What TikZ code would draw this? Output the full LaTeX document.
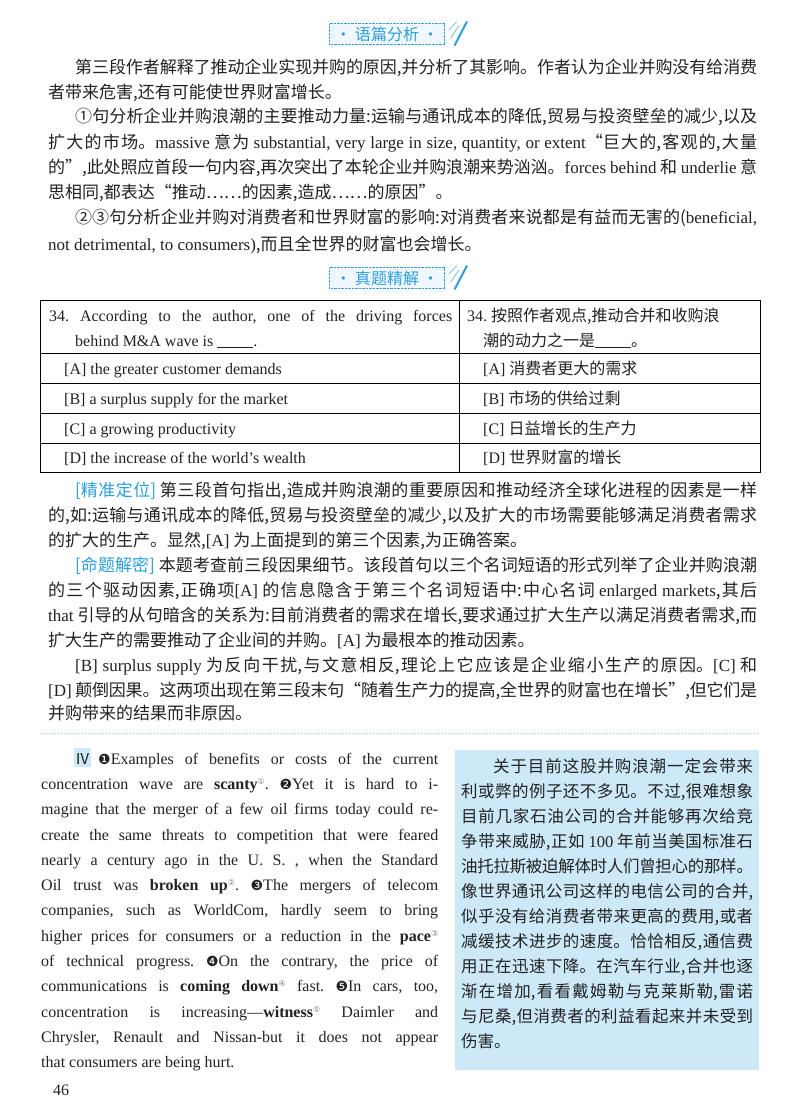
\documentclass[tikz,border=0pt]{standalone}
\usepackage{fontspec}
\setmainfont{Noto Sans CJK SC}
\newfontfamily\en{Liberation Serif}
\newfontfamily\sym{DejaVu Sans}
\XeTeXlinebreaklocale "zh"
\XeTeXlinebreakskip=0pt plus 6pt minus 1pt
\frenchspacing
\definecolor{ink}{HTML}{222222}
\definecolor{hblue}{HTML}{2E9FDE}
\definecolor{lblue}{HTML}{CDE9F8}
\newcommand\J[4]{\node[anchor=base west,inner sep=0] at (#1,#2) {\parbox[t]{#3pt}{\tolerance=10000\hyphenpenalty=10000\parfillskip=0pt\parindent=0pt\emergencystretch=20pt\leavevmode #4}};}
\newcommand\N[3]{\node[anchor=base west,inner sep=0] at (#1,#2) {#3};}
\newcommand\sn[1]{{\sym\fontsize{8}{8}\selectfont\raisebox{5pt}{\color{gray}#1}}}
\newcommand\cn[1]{{\sym\fontsize{14}{14}\selectfont #1}}
\newcommand\hdr[3]{%
  \node[draw=hblue,densely dotted,fill=lblue!30,inner xsep=6pt,inner ysep=3pt,text=hblue,font=\fontsize{16}{16}\selectfont] (#1) at (#2) {· #3 ·};
  \draw[hblue,line width=2pt,line cap=round] ($(#1.east)+(10,11)$) -- ($(#1.east)+(22,-12)$);
  \draw[hblue!60,line width=1pt] ($(#1.east)+(6,4)$) -- ($(#1.east)+(14,-8)$) ($(#1.east)+(4,-4)$) -- ($(#1.east)+(12,-12)$);}
\usetikzlibrary{calc}
\begin{document}
\begin{tikzpicture}[x=1pt,y=-1pt,every node/.style={text=ink}]
\useasboundingbox[fill=white] (0,0) rectangle (800,1115);
\hdr{h1}{387,34}{语篇分析}
\begin{scope}[every node/.append style={font=\fontsize{17}{17}\selectfont}]
\J{75}{74}{682}{第三段作者解释了推动企业实现并购的原因,并分析了其影响。作者认为企业并购没有给消费}
\N{48}{99}{者带来危害,还有可能使世界财富增长。}
\J{75}{123}{682}{①句分析企业并购浪潮的主要推动力量:运输与通讯成本的降低,贸易与投资壁垒的减少,以及}
\J{48}{149}{709}{扩大的市场。{\en massive} 意为 {\en substantial, very large in size, quantity, or extent}“巨大的,客观的,大量}
\J{48}{174}{709}{的”,此处照应首段一句内容,再次突出了本轮企业并购浪潮来势汹汹。{\en forces behind} 和 {\en underlie} 意}
\N{48}{199}{思相同,都表达“推动……的因素,造成……的原因”。}
\J{75}{224}{682}{②③句分析企业并购对消费者和世界财富的影响:对消费者来说都是有益而无害的({\en beneficial,}}
\N{48}{251}{{\en not detrimental, to consumers)},而且全世界的财富也会增长。}
\end{scope}
\hdr{h2}{387,278}{真题精解}
% table
\draw[line width=0.8pt] (40,300) rectangle (760,472);
\draw[line width=0.8pt] (459,300) -- (459,472);
\foreach \yy in {353,383,413,443} \draw[line width=0.8pt] (40,\yy) -- (760,\yy);
\begin{scope}[every node/.append style={font=\en\fontsize{16}{16}\selectfont}]
\J{49}{321}{403}{34. According to the author, one of the driving forces}
\N{75}{346}{behind M\&A wave is \underline{\hspace{36pt}}.}
\N{64}{374}{[A] the greater customer demands}
\N{64}{404}{[B] a surplus supply for the market}
\N{64}{434}{[C] a growing productivity}
\N{64}{463}{[D] the increase of the world’s wealth}
\N{467}{321}{34. {\rmfamily\fontsize{16}{16}\selectfont 按照作者观点,推动合并和收购浪}}
\N{483}{346}{{\rmfamily\fontsize{16}{16}\selectfont 潮的动力之一是}\underline{\hspace{36pt}}{\rmfamily\fontsize{16}{16}\selectfont 。}}
\N{483}{374}{[A] {\rmfamily\fontsize{16}{16}\selectfont 消费者更大的需求}}
\N{483}{404}{[B] {\rmfamily\fontsize{16}{16}\selectfont 市场的供给过剩}}
\N{483}{434}{[C] {\rmfamily\fontsize{16}{16}\selectfont 日益增长的生产力}}
\N{483}{463}{[D] {\rmfamily\fontsize{16}{16}\selectfont 世界财富的增长}}
\end{scope}
\begin{scope}[every node/.append style={font=\fontsize{17}{17}\selectfont}]
\J{75}{496}{682}{{\color{hblue}[精准定位]} 第三段首句指出,造成并购浪潮的重要原因和推动经济全球化进程的因素是一样}
\J{48}{521}{709}{的,如:运输与通讯成本的降低,贸易与投资壁垒的减少,以及扩大的市场需要能够满足消费者需求}
\N{48}{546}{的扩大的生产。显然,{\en [A]} 为上面提到的第三个因素,为正确答案。}
\J{75}{571}{682}{{\color{hblue}[命题解密]} 本题考查前三段因果细节。该段首句以三个名词短语的形式列举了企业并购浪潮}
\J{48}{596}{709}{的三个驱动因素,正确项{\en [A]} 的信息隐含于第三个名词短语中:中心名词 {\en enlarged markets},其后}
\J{48}{621}{709}{{\en that} 引导的从句暗含的关系为:目前消费者的需求在增长,要求通过扩大生产以满足消费者需求,而}
\N{48}{646}{扩大生产的需要推动了企业间的并购。{\en [A]} 为最根本的推动因素。}
\J{75}{671}{682}{{\en [B] surplus supply} 为反向干扰,与文意相反,理论上它应该是企业缩小生产的原因。{\en [C]} 和}
\J{48}{696}{709}{{\en [D]} 颠倒因果。这两项出现在第三段末句“随着生产力的提高,全世界的财富也在增长”,但它们是}
\N{48}{719}{并购带来的结果而非原因。}
\end{scope}
\draw[hblue!50,dotted,line width=1pt] (40,733) -- (760,733);
% left English
\fill[lblue] (74,748) rectangle (91,767);
\begin{scope}[every node/.append style={font=\en\fontsize{16}{16}\selectfont}]
\N{75}{764}{{\rmfamily\fontsize{15}{15}\selectfont Ⅳ}}
\J{98}{764}{340}{\cn{❶}Examples of benefits or costs of the current}
\J{41}{789}{397}{concentration wave are \textbf{scanty}\sn{①}. \cn{❷}Yet it is hard to i-}
\J{41}{814}{397}{magine that the merger of a few oil firms today could re-}
\J{41}{840}{397}{create the same threats to competition that were feared}
\J{41}{865}{397}{nearly a century ago in the U. S. , when the Standard}
\J{41}{890}{397}{Oil trust was \textbf{broken up}\sn{②}. \cn{❸}The mergers of telecom}
\J{41}{915}{397}{companies, such as WorldCom, hardly seem to bring}
\J{41}{941}{397}{higher prices for consumers or a reduction in the \textbf{pace}\sn{③}}
\J{41}{966}{397}{of technical progress. \cn{❹}On the contrary, the price of}
\J{41}{991}{397}{communications is \textbf{coming down}\sn{④} fast. \cn{❺}In cars, too,}
\J{41}{1017}{397}{concentration is \mbox{increasing—\textbf{witness}\sn{⑤}} Daimler and}
\J{41}{1042}{397}{Chrysler, Renault and Nissan-but it does not appear}
\N{41}{1067}{that consumers are being hurt.}
\N{53}{1095}{46}
\end{scope}
% right box
\fill[lblue] (455,750) rectangle (759,1070);
\begin{scope}[every node/.append style={font=\fontsize{16.5}{16.5}\selectfont}]
\J{493}{772}{260}{关于目前这股并购浪潮一定会带来}
\J{461}{797}{292}{利或弊的例子还不多见。不过,很难想象}
\J{461}{822}{292}{目前几家石油公司的合并能够再次给竞}
\J{461}{847}{292}{争带来威胁,正如 {\en 100} 年前当美国标准石}
\J{461}{872}{292}{油托拉斯被迫解体时人们曾担心的那样。}
\J{461}{897}{292}{像世界通讯公司这样的电信公司的合并,}
\J{461}{922}{292}{似乎没有给消费者带来更高的费用,或者}
\J{461}{947}{292}{减缓技术进步的速度。恰恰相反,通信费}
\J{461}{972}{292}{用正在迅速下降。在汽车行业,合并也逐}
\J{461}{997}{292}{渐在增加,看看戴姆勒与克莱斯勒,雷诺}
\J{461}{1022}{292}{与尼桑,但消费者的利益看起来并未受到}
\N{461}{1047}{伤害。}
\end{scope}
\end{tikzpicture}
\end{document}
